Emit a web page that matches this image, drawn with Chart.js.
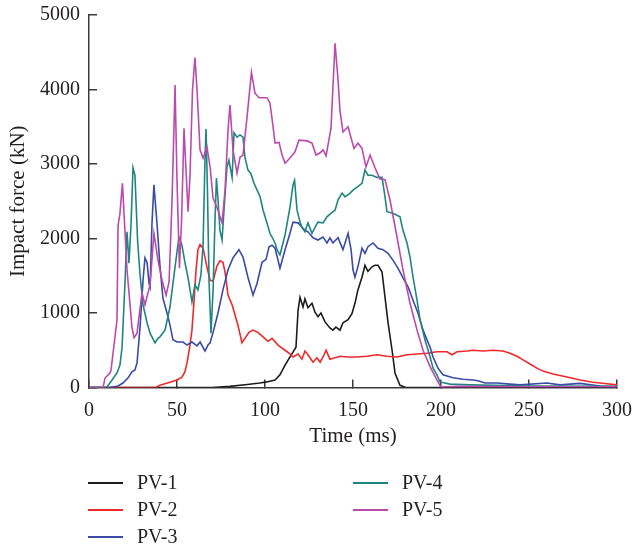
<!DOCTYPE html>
<html><head><meta charset="utf-8">
<script src="https://cdn.jsdelivr.net/npm/chart.js@4.4.1/dist/chart.umd.min.js"></script>
<style>html,body{margin:0;padding:0;background:#fff;}#wrap{width:634px;height:548px;}</style>
</head><body><div id="wrap"><canvas id="c" width="634" height="548"></canvas></div>
<script>
// ---- data (time in ms, impact force in kN) ----
const seriesNames = ['PV-1', 'PV-2', 'PV-3', 'PV-4', 'PV-5'];
const xTitle = 'Time (ms)';
const yTitle = 'Impact force (kN)';
const xRange = [0, 300, 50];
const yRange = [0, 5000, 1000];

const pv1 = [[0,0],[70,0],[80,15],[90,40],[97,60],[101,75],[105.7,100],[108.5,170],[111.4,300],[114.2,410],[115.9,475],[117.6,540],[118.8,1040],[119.9,1210],[121.6,1080],[122.7,1190],[124.4,1070],[126.7,1130],[128.4,1010],[130.1,950],[131.8,1000],[134.1,880],[136.9,800],[138.6,770],[140.3,810],[142.6,770],[144.3,870],[147.2,910],[149.4,990],[151.1,1130],[152.8,1310],[155.1,1480],[156.8,1640],[158.5,1560],[160.8,1620],[162.5,1640],[164.2,1640],[166.5,1550],[168.2,1210],[169.9,870],[172.2,500],[173.9,190],[176.7,30],[180,0],[300,0]];

const pv2 = [[0,0],[38,0],[40.3,30],[46,70],[50,100],[52.8,140],[54.5,210],[55.7,330],[57.4,570],[58.5,770],[59.7,1170],[60.8,1570],[61.9,1850],[63.1,1920],[64.8,1870],[67,1620],[68.8,1440],[70.5,1430],[72.7,1630],[74.4,1700],[76.1,1680],[77.3,1550],[79,1240],[81.3,1110],[83,970],[84.7,830],[86.9,600],[88.6,660],[90.9,740],[93.2,770],[96,740],[98.9,680],[101.7,620],[104,660],[107.4,570],[111.4,500],[114.2,450],[115.9,410],[118.8,450],[121,380],[122.7,490],[124.4,440],[127.3,340],[129.5,400],[131.3,340],[133,410],[134.7,500],[136.9,380],[139.8,400],[142.6,420],[146.6,410],[152.3,410],[158,420],[163.6,440],[169.3,420],[175,410],[180.7,440],[186.4,450],[192,460],[197.7,480],[203.4,480],[206.3,440],[209.1,480],[214.8,490],[218.2,500],[223.9,490],[229.5,500],[235.2,490],[239.2,460],[243.2,420],[246.6,370],[250.6,315],[254.5,260],[258,220],[263.6,180],[271.6,140],[279,100],[286.4,70],[294.3,50],[300,35]];

const pv3 = [[0,0],[12,0],[16.5,20],[19.3,60],[22.2,130],[24.4,210],[26.1,235],[27.3,330],[29,810],[30.7,1440],[31.8,1740],[33,1680],[34.1,1400],[34.7,1350],[35.8,2210],[36.9,2720],[38.6,2210],[40.3,1640],[42,1200],[44.3,1000],[46,840],[47.7,640],[50,610],[53.4,610],[55.7,570],[58.5,610],[61.4,560],[63.1,610],[65.9,490],[67.6,570],[68.8,600],[70.5,740],[73.3,1000],[76.1,1310],[79,1580],[81.8,1740],[85.2,1850],[87.5,1750],[90.3,1480],[93.2,1240],[95.5,1400],[98.3,1680],[100.6,1720],[102.3,1890],[104,1910],[105.7,1870],[107.4,1710],[108.5,1600],[111.4,1850],[114.2,2070],[115.9,2220],[118.8,2210],[121,2150],[122.7,2110],[124.4,2090],[127.3,2010],[130.1,1980],[133,2020],[135.2,1940],[136.9,2010],[138.6,1940],[141.5,2010],[144.3,1850],[147.2,2070],[148.9,1850],[150,1580],[151.1,1480],[152.8,1620],[155.1,1870],[156.8,1800],[158.5,1890],[161.4,1940],[164.2,1870],[167,1850],[169.9,1800],[172.7,1710],[175.6,1600],[178.4,1470],[181.3,1350],[184.1,1170],[186.9,1000],[189.8,770],[193.8,540],[195.5,410],[198.3,260],[201.1,170],[206.8,130],[212.5,110],[218.2,100],[221,90],[225,60],[231.8,60],[239.2,45],[244.9,35],[260.2,60],[267.6,35],[279,55],[290.3,20],[300,10]];

const pv4 = [[0,0],[10,0],[13.1,100],[15.9,195],[17.6,300],[18.8,545],[20.5,1440],[21.6,2090],[22.7,1670],[23.9,2200],[25,2950],[26.1,2850],[27.6,1980],[29,1510],[30.7,1110],[33,870],[34.7,730],[37.5,600],[39.2,660],[40.3,680],[43.2,770],[46,1080],[48.9,1620],[51.1,2020],[52.8,1910],[54.5,1680],[56.3,1470],[58.5,1150],[60.2,1380],[61.9,1310],[63.6,1510],[64.8,1910],[65.9,3050],[66.5,3470],[67.3,2650],[68.2,1440],[69.3,730],[70.5,1310],[71.6,2250],[72.4,2810],[73.3,2520],[74.4,2110],[75.6,1980],[76.7,2380],[78.4,2960],[79.5,3050],[81.3,2820],[82.4,3420],[84.1,3360],[85.8,3390],[87.5,3360],[88.6,3090],[90.3,2920],[92,2870],[93.8,2740],[95.5,2650],[97.2,2560],[98.9,2380],[101.1,2210],[102.8,2070],[104,2020],[105.7,1940],[106.8,1850],[108.5,1780],[111.4,2050],[114.2,2420],[115.9,2720],[116.8,2780],[118.2,2380],[119.9,2220],[121,2150],[122.7,2090],[124.4,2210],[126.7,2070],[128.4,2150],[130.1,2220],[133,2210],[135.2,2290],[138.1,2350],[139.8,2380],[141.5,2520],[143.8,2610],[145.5,2560],[148.3,2610],[150,2650],[152.3,2690],[155.1,2740],[156.8,2920],[158.5,2850],[160.8,2850],[163.6,2820],[166.5,2820],[168.2,2560],[169.3,2360],[172.7,2340],[176.7,2290],[178.4,2110],[180.7,1940],[182.4,1750],[184.1,1480],[186.4,1170],[188.1,910],[190.9,640],[193.8,410],[195.5,260],[197.7,170],[199.4,75],[205.1,45],[216.5,35],[250,20],[300,15]];

const pv5 = [[0,0],[8,0],[9.1,127],[11.9,195],[12.5,230],[15.9,905],[16.5,2170],[17.6,2340],[19,2740],[21.6,1580],[24.4,810],[25.6,670],[27.3,730],[30.1,1270],[31.8,1110],[34.7,1380],[36.9,2070],[39.2,1710],[41.5,1440],[43.8,1240],[45.5,1420],[47.2,2520],[48.9,4060],[50,2780],[51.4,1600],[52.6,2250],[54,3480],[55.1,2920],[56.3,2360],[57.4,2850],[58.8,3990],[60.2,4430],[61.4,3990],[63.1,3190],[64.8,3080],[67,3230],[68.8,2960],[70.5,2540],[72.7,2420],[75.6,2210],[77.3,2650],[79,3460],[80.1,3790],[81.8,3190],[84.1,2880],[85.8,3090],[87.5,3120],[89.8,3630],[92.3,4230],[94.3,3950],[96.6,3890],[101.1,3890],[102.8,3820],[104.5,3520],[105.7,3280],[108,3290],[109.7,3120],[111.4,3010],[114.2,3080],[117,3160],[119.3,3320],[123.9,3310],[126.7,3280],[129,3120],[131.3,3150],[133,3190],[134.7,3110],[137.5,3480],[139.8,4620],[141.5,4130],[142.6,3720],[144.3,3430],[147.2,3500],[148.9,3350],[150.6,3210],[152.8,3280],[155.1,3210],[157.4,2960],[159.7,3120],[162.5,2950],[165.3,2800],[168.2,2790],[171,2520],[175,2020],[178.4,1580],[182.4,1130],[186.4,770],[189.8,500],[193.8,280],[197.7,100],[200,5],[210,15],[250,10],[300,10]];

const seriesData = [pv1, pv2, pv3, pv4, pv5];
const seriesColors = ['#1c1c1c', '#f0282a', '#3a4aa6', '#1f8580', '#bb4aac'];

const FONT = '"Liberation Serif", "Times New Roman", serif';
const TEXT = '#231f20';
const AXIS = '#3a3a3a';

const legendPlugin = {
  id: 'colLegend',
  afterDraw(chart) {
    const ctx = chart.ctx;
    const ca = chart.chartArea;
    const mid = (ca.left + ca.right) / 2;
    const cols = [{x: ca.left - 1, idx: [0, 1, 2]}, {x: mid, idx: [3, 4]}];
    const rowY = [ca.bottom + 95.5, ca.bottom + 122.5, ca.bottom + 149.5];
    ctx.save();
    ctx.font = '20px ' + FONT;
    ctx.textBaseline = 'middle';
    ctx.textAlign = 'left';
    cols.forEach(col => {
      col.idx.forEach((di, r) => {
        const ds = chart.data.datasets[di];
        const y = rowY[r];
        ctx.strokeStyle = ds.borderColor;
        ctx.lineWidth = 2;
        ctx.beginPath();
        ctx.moveTo(col.x, y);
        ctx.lineTo(col.x + 35, y);
        ctx.stroke();
        ctx.fillStyle = TEXT;
        ctx.fillText(ds.label, col.x + 49, y + 1);
      });
    });
    ctx.restore();
  }
};

new Chart(document.getElementById('c'), {
  type: 'line',
  data: {
    datasets: seriesNames.map((n, i) => ({
      label: n,
      data: seriesData[i].map(p => ({x: p[0], y: p[1]})),
      borderColor: seriesColors[i],
      backgroundColor: seriesColors[i],
      borderWidth: 1.6,
      pointRadius: 0,
      tension: 0,
      fill: false,
      order: 4 - i
    }))
  },
  options: {
    responsive: false,
    animation: false,
    events: [],
    devicePixelRatio: 1,
    layout: {padding: {top: 15, right: 17, bottom: 99, left: 0}},
    plugins: {legend: {display: false}, tooltip: {enabled: false}},
    scales: {
      x: {
        type: 'linear', min: xRange[0], max: xRange[1],
        afterFit: s => { s.height = 61.5; s.paddingLeft = 0; s.paddingRight = 0; },
        border: {display: true, color: AXIS, width: 1.5},
        grid: {drawOnChartArea: false, drawTicks: true, tickLength: -8, color: AXIS, lineWidth: 1.5},
        ticks: {stepSize: xRange[2], padding: 19, color: TEXT, font: {family: FONT, size: 20}, maxRotation: 0, callback: v => String(v)},
        title: {display: true, text: xTitle, color: TEXT, font: {family: FONT, size: 21}, padding: {top: 0, bottom: 0}}
      },
      y: {
        type: 'linear', min: yRange[0], max: yRange[1],
        afterFit: s => { s.width = 89; s.paddingTop = 0; s.paddingBottom = 0; },
        border: {display: true, color: AXIS, width: 1.5},
        grid: {drawOnChartArea: false, drawTicks: true, tickLength: -8, color: AXIS, lineWidth: 1.5},
        ticks: {stepSize: yRange[2], padding: 17, color: TEXT, font: {family: FONT, size: 20}, callback: v => String(v)},
        title: {display: true, text: yTitle, color: TEXT, font: {family: FONT, size: 21}, padding: {top: 6, bottom: 0}}
      }
    }
  },
  plugins: [legendPlugin]
});
</script></body></html>
